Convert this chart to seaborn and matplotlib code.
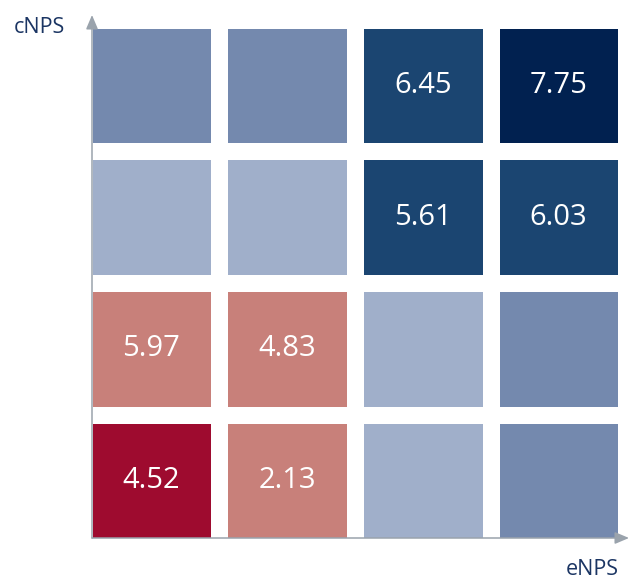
import numpy as np
import pandas as pd
import matplotlib
matplotlib.use('Agg')
import matplotlib.pyplot as plt
from matplotlib.colors import ListedColormap
import seaborn as sns

# eNPS groups along x (low -> high), cNPS groups along y (top row = high)
enps_groups = ['E1', 'E2', 'E3', 'E4']
cnps_groups = ['C4', 'C3', 'C2', 'C1']

# colour class of each cell: 0 red, 1 salmon, 2 light blue, 3 mid blue, 4 dark blue, 5 navy
class_c4 = [3, 3, 4, 5]
class_c3 = [2, 2, 4, 4]
class_c2 = [1, 1, 2, 3]
class_c1 = [0, 1, 2, 3]

# values printed in the cells ('' = empty cell)
label_c4 = ['', '', '6.45', '7.75']
label_c3 = ['', '', '5.61', '6.03']
label_c2 = ['5.97', '4.83', '', '']
label_c1 = ['4.52', '2.13', '', '']

palette = ['#9E0B2F', '#C8807A', '#A0AFCA', '#7489AE', '#1B4571', '#012150']

grid = pd.DataFrame([class_c4, class_c3, class_c2, class_c1],
                    index=cnps_groups, columns=enps_groups)
labels = np.array([label_c4, label_c3, label_c2, label_c1])

W, H = 630, 581
fig = plt.figure(figsize=(W / 100, H / 100), dpi=100)
# axes box = outer edges of the cells (pixels: left 92, right 618, top 28, bottom 538)
ax = fig.add_axes([92 / W, 1 - 538 / H, (618 - 92) / W, (538 - 28) / H])

gap_px = 17
sns.heatmap(grid, cmap=ListedColormap(palette), vmin=-0.5, vmax=5.5,
            cbar=False, annot=labels, fmt='',
            linewidths=gap_px * 0.72, linecolor='white',
            annot_kws=dict(color='white', fontsize=21, family='Open Sans'),
            ax=ax)

# clip away the outer half of the white grid lines so the cells touch the axes
gx = 4 * gap_px / ((618 - 92) + gap_px)
gy = 4 * gap_px / ((538 - 28) + gap_px)
ax.set_xlim(gx / 2, 4 - gx / 2)
ax.set_ylim(4 - gy / 2, gy / 2)
ax.set_xticks([])
ax.set_yticks([])
ax.set_xlabel('')
ax.set_ylabel('')

# arrow axes
axis_col = '#9AA3AC'
arrow = dict(arrowstyle='-|>,head_length=0.85,head_width=0.36', mutation_scale=10,
             color=axis_col, lw=1.1, shrinkA=0, shrinkB=0)
ax.annotate('', xy=(0, 1 + 13 / 510), xytext=(0, 0), xycoords='axes fraction',
            arrowprops=arrow, annotation_clip=False)
ax.annotate('', xy=(1 + 11 / 526, 0), xytext=(0, 0), xycoords='axes fraction',
            arrowprops=arrow, annotation_clip=False)

fig.text(14 / W, 1 - 33 / H, 'cNPS', ha='left', va='baseline',
         fontsize=15.5, family='Open Sans', color='#1B3563')
fig.text(566 / W, 1 - 575 / H, 'eNPS', ha='left', va='baseline',
         fontsize=15.5, family='Open Sans', color='#1B3563')

fig.savefig('out.png', dpi=100)
